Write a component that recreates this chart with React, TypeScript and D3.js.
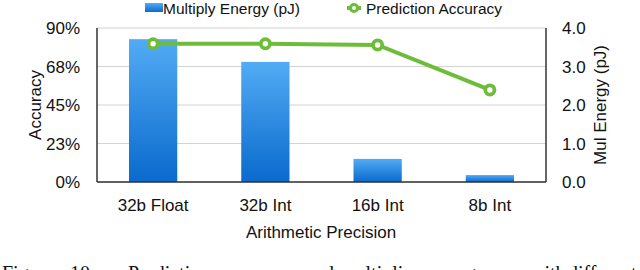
import React from "react";
import * as d3 from "d3";

const categories = ["32b Float", "32b Int", "16b Int", "8b Int"];
const energy = [3.71, 3.12, 0.6, 0.18];
const accuracy = [80.8, 80.8, 80.1, 53.8];
const leftTicks = [0, 22.5, 45, 67.5, 90];
const leftTickLabels = ["0%", "23%", "45%", "68%", "90%"];
const rightTicks = [0, 1, 2, 3, 4];
const rightTickLabels = ["0.0", "1.0", "2.0", "3.0", "4.0"];
const captionWords = ["Figure", "10.", "Prediction", "accuracy", "and", "multiplier", "energy", "with", "different"];
const captionX = [2, 70, 128, 228, 305, 340, 432, 530, 568];

const W = 640, H = 270;
const L = 97, R = 546, T = 28, B = 182;
const FONT = "'Liberation Sans', Arial, Helvetica, sans-serif";
const GREEN = "#6dbd3b";

export default function App() {
  const x = d3.scaleBand<string>().domain(categories).range([L, R]).paddingInner(0.57).paddingOuter(0.285);
  const yL = d3.scaleLinear().domain([0, 90]).range([B, T]);
  const yR = d3.scaleLinear().domain([0, 4]).range([B, T]);
  const cx = (c: string) => (x(c) as number) + x.bandwidth() / 2;
  const line = d3.line<number>().x((_, i) => cx(categories[i])).y((d) => yL(d));

  return (
    <svg width={W} height={H} style={{ position: "absolute", left: 0, top: 0, background: "#fff" }} fontFamily={FONT}>
      <defs>
        <linearGradient id="barGrad" x1="0" y1="0" x2="0" y2="1">
          <stop offset="0%" stopColor="#52abf4" />
          <stop offset="100%" stopColor="#0a6acd" />
        </linearGradient>
      </defs>
      {/* gridlines */}
      {leftTicks.map((t) => (
        <line key={t} x1={L} x2={R} y1={yL(t)} y2={yL(t)} stroke="#d3d3d3" strokeWidth={1.2} />
      ))}
      {/* bars */}
      {categories.map((c, i) => (
        <rect key={c} x={x(c)} y={yR(energy[i])} width={x.bandwidth()} height={B - yR(energy[i])} fill="url(#barGrad)" />
      ))}
      {/* axes */}
      <line x1={L} x2={L} y1={T} y2={B} stroke="#333" strokeWidth={1.5} />
      <line x1={R} x2={R} y1={T} y2={B} stroke="#333" strokeWidth={1.5} />
      <line x1={L} x2={R} y1={B} y2={B} stroke="#333" strokeWidth={1.5} />
      {/* line */}
      <path d={line(accuracy) || ""} fill="none" stroke={GREEN} strokeWidth={4} />
      {accuracy.map((a, i) => (
        <circle key={i} cx={cx(categories[i])} cy={yL(a)} r={4.6} fill="#fff" stroke={GREEN} strokeWidth={3.8} />
      ))}
      {/* left ticks */}
      {leftTicks.map((t, i) => (
        <text key={t} x={80} y={yL(t)} dy="0.36em" textAnchor="end" fontSize={17} fill="#111">{leftTickLabels[i]}</text>
      ))}
      {rightTicks.map((t, i) => (
        <text key={t} x={562} y={yR(t)} dy="0.36em" textAnchor="start" fontSize={17} fill="#111">{rightTickLabels[i]}</text>
      ))}
      {categories.map((c) => (
        <text key={c} x={cx(c)} y={211} textAnchor="middle" fontSize={17} fill="#111">{c}</text>
      ))}
      <text x={321} y={238} textAnchor="middle" fontSize={17} fill="#111">Arithmetic Precision</text>
      <text transform={`translate(41,${(T + B) / 2}) rotate(-90)`} textAnchor="middle" fontSize={17} fill="#111">Accuracy</text>
      <text transform={`translate(606,${(T + B) / 2}) rotate(-90)`} textAnchor="middle" fontSize={17} fill="#111">Mul Energy (pJ)</text>
      {/* legend */}
      <rect x={145} y={3} width={18} height={9} fill="url(#barGrad)" />
      <text x={163} y={14} fontSize={15.5} fill="#111">Multiply Energy (pJ)</text>
      <line x1={347} x2={361} y1={8} y2={8} stroke={GREEN} strokeWidth={4} />
      <circle cx={354} cy={8} r={3.5} fill="#fff" stroke={GREEN} strokeWidth={3} />
      <text x={366} y={14} fontSize={15.5} fill="#111">Prediction Accuracy</text>
      {/* caption (clipped) */}
      {captionWords.map((w, i) => (
        <text key={i} x={captionX[i]} y={280} fontSize={20} fontFamily="'Liberation Serif', 'Times New Roman', serif" fill="#111">{w}</text>
      ))}
    </svg>
  );
}
